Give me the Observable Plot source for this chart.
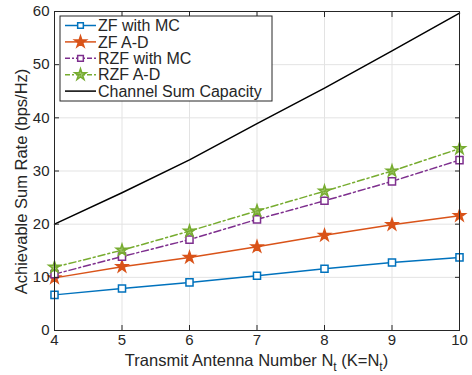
<!DOCTYPE html>
<html>
<head>
<meta charset="utf-8">
<script src="https://cdn.jsdelivr.net/npm/d3@7"></script>
<script src="https://cdn.jsdelivr.net/npm/@observablehq/plot@0.6"></script>
<style>
  html, body { margin: 0; padding: 0; background: #fff; }
  #chart { width: 472px; height: 375px; }
</style>
</head>
<body>
<div id="chart"></div>
<script>
const xTicks = [4, 5, 6, 7, 8, 9, 10];
const yTicks = [0, 10, 20, 30, 40, 50, 60];
const antennas = [4, 5, 6, 7, 8, 9, 10];
const zfMC = [6.7, 7.9, 9.05, 10.3, 11.6, 12.8, 13.75];
const zfAD = [9.9, 12.0, 13.75, 15.75, 17.9, 19.9, 21.6];
const rzfMC = [10.6, 13.9, 17.1, 20.9, 24.4, 28.05, 32.05];
const rzfAD = [11.9, 15.1, 18.7, 22.5, 26.2, 30.0, 34.2];
const capacity = [20, 25.9, 32.1, 38.9, 45.6, 52.6, 59.7];
const seriesNames = ["ZF with MC", "ZF A-D", "RZF with MC", "RZF A-D", "Channel Sum Capacity"];
const seriesValues = [zfMC, zfAD, rzfMC, rzfAD, capacity];
const seriesColors = ["#0072BD", "#D95319", "#7E2F8E", "#77AC30", "#000000"];
const seriesDash = [null, null, "7,3,2,3", "7,3,2,3", null];
const seriesSymbol = ["square", "star", "square", "star", null];
const xLabelParts = [["Transmit Antenna Number N", 0], ["t", 1], [" (K=N", 0], ["t", 1], [")", 0]];
const yLabel = "Achievable Sum Rate (bps/Hz)";

const textColor = "#262626";
const font = "'Liberation Sans', Arial, Helvetica, sans-serif";

const series = seriesNames.map((name, i) => ({
  name, color: seriesColors[i], dash: seriesDash[i], symbol: seriesSymbol[i],
  data: antennas.map((x, j) => ({x, y: seriesValues[i][j], name}))
}));

const marks = [
  Plot.gridX(xTicks, {stroke: "#e3e3e3", strokeOpacity: 1}),
  Plot.gridY(yTicks, {stroke: "#e3e3e3", strokeOpacity: 1})
];
for (const s of series) {
  marks.push(Plot.line(s.data, {x: "x", y: "y", stroke: s.color, strokeWidth: 1.5, strokeDasharray: s.dash}));
}
for (const s of series) {
  if (!s.symbol) continue;
  if (s.symbol === "square") {
    marks.push(Plot.dot(s.data, {x: "x", y: "y", symbol: "square", r: 4.0, stroke: s.color, fill: "white", strokeWidth: 1.5}));
  } else {
    marks.push(Plot.dot(s.data, {x: "x", y: "y", symbol: "star", r: 3.6, stroke: s.color, fill: s.color, fillOpacity: s.name === "RZF A-D" ? 0.7 : 1, strokeWidth: 1.5}));
  }
}
marks.push(
  Plot.frame({stroke: textColor, strokeWidth: 1}),
  Plot.axisX(xTicks, {anchor: "bottom", tickSize: -5, tickPadding: 9, label: null, tickFormat: d => String(d), stroke: textColor}),
  Plot.axisX(xTicks, {anchor: "top", tickSize: -5, label: null, tickFormat: () => "", stroke: textColor}),
  Plot.axisY(yTicks, {anchor: "left", tickSize: -5, tickPadding: 10, label: null, tickFormat: d => String(d), stroke: textColor}),
  Plot.axisY(yTicks, {anchor: "right", tickSize: -5, label: null, tickFormat: () => "", stroke: textColor})
);

const plot = Plot.plot({
  width: 472,
  height: 375,
  marginLeft: 54,
  marginRight: 13,
  marginTop: 11,
  marginBottom: 45,
  x: {domain: [4, 10]},
  y: {domain: [0, 60]},
  style: {fontFamily: font, fontSize: "15px", color: textColor, background: "white"},
  marks
});

const svg = d3.select(plot);
const xs = plot.scale("x"), ys = plot.scale("y");
const [xl, xr] = xs.range; const [yb, yt] = ys.range;

// x-axis label with subscripts
const xt = svg.append("text")
  .attr("x", (xl + xr) / 2).attr("y", yb + 36)
  .attr("text-anchor", "middle")
  .attr("font-family", font).attr("font-size", "16.5px").attr("fill", textColor);
xLabelParts.forEach(([t, sub], i) => {
  const ts = xt.append("tspan").text(t);
  if (sub) ts.attr("dy", 5).attr("font-size", "12px");
  else if (i > 0) ts.attr("dy", -5);
});

// y-axis label
svg.append("text")
  .attr("transform", `translate(27,${(yb + yt) / 2 + 11}) rotate(-90)`)
  .attr("text-anchor", "middle")
  .attr("font-family", font).attr("font-size", "16.5px").attr("fill", textColor)
  .text(yLabel);

// legend
const lg = svg.append("g").attr("transform", `translate(${xl + 6},${yt + 5})`);
const rowH = 16.4;
lg.append("rect").attr("x", 0).attr("y", 0).attr("width", 212).attr("height", 85)
  .attr("fill", "white").attr("stroke", textColor).attr("stroke-width", 1);
series.forEach((s, i) => {
  const cy = 9.5 + i * rowH;
  lg.append("line").attr("x1", 5).attr("x2", 36).attr("y1", cy).attr("y2", cy)
    .attr("stroke", s.color).attr("stroke-width", 1.5)
    .attr("stroke-dasharray", s.dash ? "5,2,2,2" : null);
  if (s.symbol) {
    const sym = s.symbol === "square" ? d3.symbolSquare : d3.symbolStar;
    const r = s.symbol === "square" ? 3.2 : 3.6;
    lg.append("path").attr("d", d3.symbol(sym, r * r * Math.PI)())
      .attr("transform", `translate(20.5,${cy})`)
      .attr("stroke", s.color).attr("stroke-width", 1.5)
      .attr("fill", s.symbol === "square" ? "white" : s.color)
      .attr("fill-opacity", s.name === "RZF A-D" ? 0.7 : 1);
  }
  lg.append("text").attr("x", 38).attr("y", cy).attr("dy", "0.36em")
    .attr("text-anchor", "start")
    .attr("font-family", font).attr("font-size", "16px").attr("fill", textColor)
    .text(s.name);
});

document.getElementById("chart").append(plot);
</script>
</body>
</html>
